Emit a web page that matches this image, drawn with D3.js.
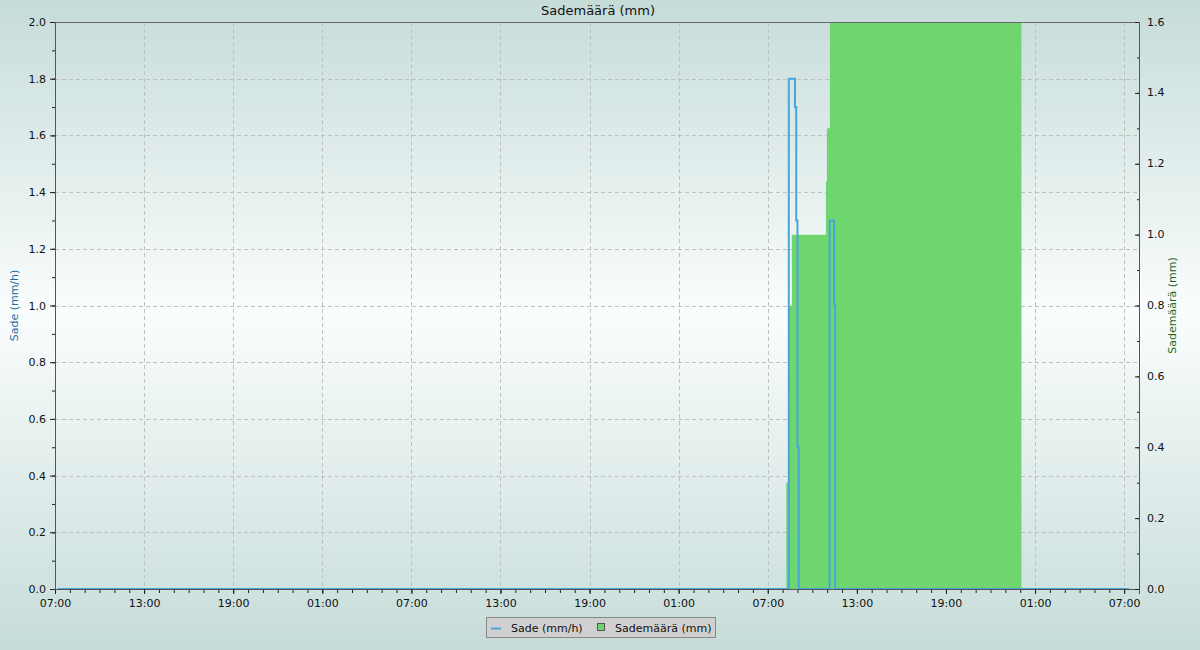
<!DOCTYPE html>
<html><head><meta charset="utf-8">
<script src="https://cdn.jsdelivr.net/npm/d3@7"></script>
<style>
html,body{margin:0;padding:0;}
body{width:1200px;height:650px;overflow:hidden;font-family:"DejaVu Sans",sans-serif;}
</style></head>
<body><svg id="chart" width="1200" height="650"></svg>
<script>
// ---- data ----
const domainStart = "2024-01-01T07:00";
const domainEnd = "2024-01-04T08:00";
const sadeTimes = ["2024-01-01T07:10","2024-01-03T08:25","2024-01-03T08:50","2024-01-03T08:55","2024-01-03T09:00","2024-01-03T09:05","2024-01-03T11:10","2024-01-03T11:28","2024-01-03T11:32","2024-01-04T07:20"];
const sadeValues = [0, 1.8, 1.7, 1.3, 0.5, 0, 1.3, 1.0, 0, 0];
const summaTimes = ["2024-01-01T07:00","2024-01-03T08:15","2024-01-03T08:26","2024-01-03T08:37","2024-01-03T10:55","2024-01-03T10:59","2024-01-03T11:11","2024-01-04T00:05"];
const summaValues = [0, 0.3, 0.8, 1.0, 1.15, 1.3, 1.6, 0];
const leftTicks = [0,0.2,0.4,0.6,0.8,1.0,1.2,1.4,1.6,1.8,2.0];
const rightTicks = [0,0.2,0.4,0.6,0.8,1.0,1.2,1.4,1.6];
const title = "Sademäärä (mm)";
const leftLabel = "Sade (mm/h)";
const rightLabel = "Sademäärä (mm)";

// ---- layout ----
const W = 1200, H = 650;
const m = {left:55, right:1139, top:22, bottom:589};
const parse = s => new Date(s + ":00Z");
const svg = d3.select("#chart");

// background gradient
const defs = svg.append("defs");
const grad = defs.append("linearGradient").attr("id","bg").attr("x1",0).attr("y1",0).attr("x2",0).attr("y2",1);
grad.append("stop").attr("offset","0%").attr("stop-color","#c6dcd9");
grad.append("stop").attr("offset","48%").attr("stop-color","#fafdfd");
grad.append("stop").attr("offset","100%").attr("stop-color","#c6dcd9");
svg.append("rect").attr("width",W).attr("height",H).attr("fill","url(#bg)");
defs.append("clipPath").attr("id","clip").append("rect")
  .attr("x",m.left).attr("y",m.top).attr("width",m.right-m.left).attr("height",m.bottom-m.top);

const t0 = parse(domainStart), t1 = parse(domainEnd);
const x = d3.scaleUtc().domain([t0, t1]).range([m.left, m.right]);
const yL = d3.scaleLinear().domain([0,2.0]).range([m.bottom, m.top]);
const yR = d3.scaleLinear().domain([0,1.6]).range([m.bottom, m.top]);

const majorX = d3.utcHour.range(t0, new Date(+t1+1)).filter((d,i)=>i%6===0);
const minorX = d3.utcHour.range(t0, new Date(+t1+1));
const fmt = d3.utcFormat("%H:%M");

// grid
const grid = svg.append("g").attr("stroke","#c0c0c0").attr("stroke-width",1).attr("stroke-dasharray","4,3").attr("shape-rendering","crispEdges");
grid.selectAll("line.h").data(leftTicks.filter(v=>v>0 && v<2)).join("line")
  .attr("x1",m.left).attr("x2",m.right).attr("y1",d=>Math.round(yL(d))+0.5).attr("y2",d=>Math.round(yL(d))+0.5);
grid.selectAll("line.v").data(majorX.filter(d=>x(d)>m.left+1 && x(d)<m.right-1)).join("line")
  .attr("y1",m.top).attr("y2",m.bottom).attr("x1",d=>Math.round(x(d))+0.5).attr("x2",d=>Math.round(x(d))+0.5);

// green area
const summa = summaTimes.map((t,i)=>({t:parse(t), v:summaValues[i]}));
const area = d3.area().x(d=>x(d.t)).y0(yR(0)).y1(d=>yR(d.v)).curve(d3.curveStepAfter);
svg.append("path").datum(summa).attr("clip-path","url(#clip)")
  .attr("d",area).attr("fill","#6fd66f");

// blue line
const sade = sadeTimes.map((t,i)=>({t:parse(t), v:sadeValues[i]}));
const line = d3.line().x(d=>x(d.t)).y(d=>yL(d.v)).curve(d3.curveStepAfter);
svg.append("path").datum(sade).attr("clip-path","url(#clip)")
  .attr("d",line).attr("fill","none").attr("stroke","#46a6db").attr("stroke-width",2);

// top frame line
svg.append("line").attr("x1",m.left).attr("x2",m.right).attr("y1",m.top+0.5).attr("y2",m.top+0.5)
  .attr("stroke","#666").attr("stroke-width",1);

// axes
const fontF = '"DejaVu Sans", sans-serif';
const gx = svg.append("g").attr("transform",`translate(0,${m.bottom})`);
gx.call(d3.axisBottom(x).tickValues(minorX).tickSize(4).tickFormat(""));
gx.call(g=>g.append("g").call(d3.axisBottom(x).tickValues(majorX).tickSize(5).tickFormat(fmt)));
gx.selectAll(".domain").attr("stroke","#555");
gx.selectAll("line").attr("stroke","#222");
gx.selectAll("text").attr("font-family",fontF).attr("font-size",11).attr("fill","#111").attr("dy","0.9em");

const minorL = d3.range(0,21).map(i=>i/10);
const gl = svg.append("g").attr("transform",`translate(${m.left},0)`);
gl.call(d3.axisLeft(yL).tickValues(minorL).tickSize(3).tickFormat(""));
gl.call(g=>g.append("g").call(d3.axisLeft(yL).tickValues(leftTicks).tickSize(5).tickFormat(d3.format(".1f"))));
gl.selectAll(".domain").attr("stroke","#555");
gl.selectAll("line").attr("stroke","#222");
gl.selectAll("text").attr("font-family",fontF).attr("font-size",11).attr("fill","#111").attr("x",-9);

const minorR = d3.range(0,17).map(i=>i/10);
const gr = svg.append("g").attr("transform",`translate(${m.right},0)`);
gr.call(d3.axisLeft(yR).tickValues(minorR).tickSize(2).tickFormat(""));
gr.call(g=>g.append("g").call(d3.axisLeft(yR).tickValues(rightTicks).tickSize(4).tickFormat("")));
gr.selectAll(".domain").attr("stroke","#555");
gr.selectAll("line").attr("stroke","#222");
gr.append("g").attr("text-anchor","start").selectAll("text").data(rightTicks).join("text")
  .attr("x",8).attr("y",d=>yR(d)).attr("dy","0.32em").attr("text-anchor","start")
  .attr("font-family",fontF).attr("font-size",11).attr("fill","#111").text(d3.format(".1f"));

// titles
svg.append("text").attr("x",598).attr("y",15).attr("text-anchor","middle")
  .attr("font-family",fontF).attr("font-size",13).attr("fill","#111").text(title);
svg.append("text").attr("transform",`translate(18,${(m.top+m.bottom)/2}) rotate(-90)`).attr("text-anchor","middle")
  .attr("font-family",fontF).attr("font-size",11).attr("fill","#1f6f9f").text(leftLabel);
svg.append("text").attr("transform",`translate(1176,${(m.top+m.bottom)/2}) rotate(-90)`).attr("text-anchor","middle")
  .attr("font-family",fontF).attr("font-size",11).attr("fill","#1f6a1f").text(rightLabel);

// legend
const lg = svg.append("g");
lg.append("rect").attr("x",486.5).attr("y",617.5).attr("width",229).attr("height",20)
  .attr("fill","#d0d0d0").attr("stroke","#888");
lg.append("line").attr("x1",491).attr("x2",501).attr("y1",628.5).attr("y2",628.5).attr("stroke","#46a6db").attr("stroke-width",2);
lg.append("text").attr("x",511).attr("y",631.5).attr("font-family",fontF).attr("font-size",11).attr("fill","#111").text(leftLabel);
lg.append("rect").attr("x",597.5).attr("y",623.5).attr("width",7).attr("height",7).attr("fill","#6fd66f").attr("stroke","#555");
lg.append("text").attr("x",615).attr("y",631.5).attr("font-family",fontF).attr("font-size",11).attr("fill","#111").text(rightLabel);
</script></body></html>
